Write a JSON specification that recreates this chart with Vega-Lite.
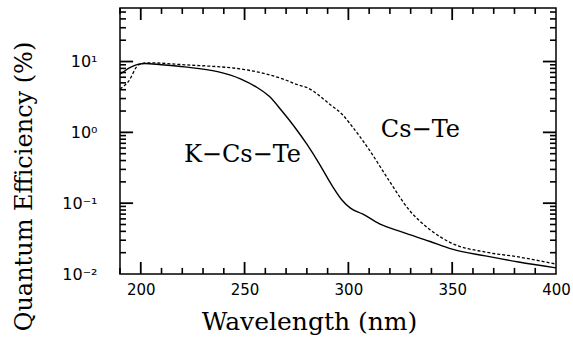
{
  "$schema": "https://vega.github.io/schema/vega-lite/v6.json",
  "width": 436,
  "height": 266,
  "autosize": "none",
  "padding": {"left": 120, "top": 8, "right": 17, "bottom": 67},
  "background": "white",
  "config": {
    "view": {"stroke": "black", "strokeWidth": 1.5},
    "axis": {"domain": false, "grid": false, "ticks": false, "tickSize": 0, "labelColor": "black", "titleColor": "black", "labelFont": "DejaVu Sans", "labelFontSize": 15, "titleFont": "DejaVu Serif", "titleFontWeight": "normal"}
  },
  "resolve": {"axis": {"x": "independent", "y": "independent"}},
  "datasets": {
    "curves": [
      {"wl": 190, "qe": 6.6, "s": "K-Cs-Te"},
      {"wl": 195, "qe": 8.3, "s": "K-Cs-Te"},
      {"wl": 199, "qe": 9.2, "s": "K-Cs-Te"},
      {"wl": 202, "qe": 9.4, "s": "K-Cs-Te"},
      {"wl": 210, "qe": 9.0, "s": "K-Cs-Te"},
      {"wl": 221, "qe": 8.4, "s": "K-Cs-Te"},
      {"wl": 237, "qe": 7.2, "s": "K-Cs-Te"},
      {"wl": 248, "qe": 5.7, "s": "K-Cs-Te"},
      {"wl": 256, "qe": 4.3, "s": "K-Cs-Te"},
      {"wl": 262, "qe": 3.2, "s": "K-Cs-Te"},
      {"wl": 268, "qe": 2.0, "s": "K-Cs-Te"},
      {"wl": 274, "qe": 1.2, "s": "K-Cs-Te"},
      {"wl": 280, "qe": 0.68, "s": "K-Cs-Te"},
      {"wl": 286, "qe": 0.36, "s": "K-Cs-Te"},
      {"wl": 292, "qe": 0.18, "s": "K-Cs-Te"},
      {"wl": 297, "qe": 0.11, "s": "K-Cs-Te"},
      {"wl": 301, "qe": 0.085, "s": "K-Cs-Te"},
      {"wl": 307, "qe": 0.07, "s": "K-Cs-Te"},
      {"wl": 315, "qe": 0.051, "s": "K-Cs-Te"},
      {"wl": 326, "qe": 0.039, "s": "K-Cs-Te"},
      {"wl": 339, "qe": 0.029, "s": "K-Cs-Te"},
      {"wl": 350, "qe": 0.0224, "s": "K-Cs-Te"},
      {"wl": 366, "qe": 0.018, "s": "K-Cs-Te"},
      {"wl": 382, "qe": 0.0148, "s": "K-Cs-Te"},
      {"wl": 400, "qe": 0.0122, "s": "K-Cs-Te"},
      {"wl": 190, "qe": 4.1, "s": "Cs-Te"},
      {"wl": 194, "qe": 5.2, "s": "Cs-Te"},
      {"wl": 199, "qe": 9.0, "s": "Cs-Te"},
      {"wl": 203.5, "qe": 9.6, "s": "Cs-Te"},
      {"wl": 221, "qe": 9.0, "s": "Cs-Te"},
      {"wl": 250, "qe": 7.7, "s": "Cs-Te"},
      {"wl": 269, "qe": 5.6, "s": "Cs-Te"},
      {"wl": 275.6, "qe": 4.7, "s": "Cs-Te"},
      {"wl": 280, "qe": 4.3, "s": "Cs-Te"},
      {"wl": 286, "qe": 3.3, "s": "Cs-Te"},
      {"wl": 291, "qe": 2.5, "s": "Cs-Te"},
      {"wl": 297, "qe": 1.8, "s": "Cs-Te"},
      {"wl": 301, "qe": 1.3, "s": "Cs-Te"},
      {"wl": 310, "qe": 0.57, "s": "Cs-Te"},
      {"wl": 320, "qe": 0.2, "s": "Cs-Te"},
      {"wl": 329, "qe": 0.082, "s": "Cs-Te"},
      {"wl": 339, "qe": 0.043, "s": "Cs-Te"},
      {"wl": 350, "qe": 0.027, "s": "Cs-Te"},
      {"wl": 366, "qe": 0.0204, "s": "Cs-Te"},
      {"wl": 382, "qe": 0.0174, "s": "Cs-Te"},
      {"wl": 400, "qe": 0.0138, "s": "Cs-Te"}
    ],
    "labels": [
      {"wl": 249, "qe": 0.38, "t": "K−Cs−Te"},
      {"wl": 334.7, "qe": 0.85, "t": "Cs−Te"}
    ],
    "xmajor": [{"v": 200}, {"v": 250}, {"v": 300}, {"v": 350}],
    "xminor": [
      {"v": 190}, {"v": 210}, {"v": 220}, {"v": 230}, {"v": 240}, {"v": 260}, {"v": 270}, {"v": 280},
      {"v": 290}, {"v": 310}, {"v": 320}, {"v": 330}, {"v": 340}, {"v": 360}, {"v": 370}, {"v": 380}, {"v": 390}
    ],
    "ymajor": [{"v": 0.1}, {"v": 1}, {"v": 10}],
    "yminor": [
      {"v": 0.02}, {"v": 0.03}, {"v": 0.04}, {"v": 0.05}, {"v": 0.06}, {"v": 0.07}, {"v": 0.08}, {"v": 0.09},
      {"v": 0.2}, {"v": 0.3}, {"v": 0.4}, {"v": 0.5}, {"v": 0.6}, {"v": 0.7}, {"v": 0.8}, {"v": 0.9},
      {"v": 2}, {"v": 3}, {"v": 4}, {"v": 5}, {"v": 6}, {"v": 7}, {"v": 8}, {"v": 9},
      {"v": 20}, {"v": 30}, {"v": 40}, {"v": 50}
    ]
  },
  "layer": [
    {
      "data": {"name": "curves"},
      "transform": [{"filter": "datum.s === 'K-Cs-Te'"}],
      "mark": {"type": "line", "color": "black", "strokeWidth": 1.4, "interpolate": "monotone"},
      "encoding": {
        "x": {
          "field": "wl", "type": "quantitative",
          "scale": {"domain": [190, 400], "nice": false, "zero": false},
          "axis": {
            "orient": "bottom",
            "values": [200, 250, 300, 350, 400],
            "labelFlush": false,
            "labelPadding": 8,
            "labelOverlap": false,
            "title": "Wavelength (nm)",
            "titleFontSize": 25,
            "titleX": 189,
            "titleY": 55,
            "titleBaseline": "alphabetic",
            "titleAlign": "center",
            "titleAnchor": null
          }
        },
        "y": {
          "field": "qe", "type": "quantitative",
          "scale": {"type": "log", "domain": [0.01, 57], "nice": false},
          "axis": {
            "orient": "left",
            "values": [0.01, 0.1, 1, 10],
            "labelFontSize": 16,
            "labelExpr": "datum.value === 10 ? '10¹' : datum.value === 1 ? '10⁰' : datum.value === 0.1 ? '10⁻¹' : '10⁻²'",
            "labelPadding": 23,
            "labelOverlap": false,
            "title": "Quantum Efficiency (%)",
            "titleFontSize": 24,
            "titleAngle": -90,
            "titleX": -89,
            "titleY": 178,
            "titleBaseline": "alphabetic",
            "titleAlign": "center",
            "titleAnchor": null
          }
        }
      }
    },
    {
      "data": {"name": "curves"},
      "transform": [{"filter": "datum.s === 'Cs-Te'"}],
      "mark": {"type": "line", "color": "black", "strokeWidth": 1.3, "strokeDash": [3, 2], "interpolate": "monotone"},
      "encoding": {
        "x": {"field": "wl", "type": "quantitative", "scale": {"domain": [190, 400], "nice": false, "zero": false}, "axis": null},
        "y": {"field": "qe", "type": "quantitative", "scale": {"type": "log", "domain": [0.01, 57], "nice": false}, "axis": null}
      }
    },
    {
      "data": {"name": "labels"},
      "mark": {"type": "text", "font": "DejaVu Serif", "fontSize": 24, "baseline": "alphabetic", "align": "center", "color": "black"},
      "encoding": {
        "x": {"field": "wl", "type": "quantitative", "scale": {"domain": [190, 400], "nice": false, "zero": false}, "axis": null},
        "y": {"field": "qe", "type": "quantitative", "scale": {"type": "log", "domain": [0.01, 57], "nice": false}, "axis": null},
        "text": {"field": "t", "type": "nominal"}
      }
    },
    {
      "data": {"name": "xmajor"},
      "mark": {"type": "rule", "color": "black", "strokeWidth": 1.8},
      "encoding": {
        "x": {"field": "v", "type": "quantitative", "scale": {"domain": [190, 400], "nice": false, "zero": false}, "axis": null},
        "y": {"datum": 0.01, "type": "quantitative", "scale": {"type": "log", "domain": [0.01, 57], "nice": false}, "axis": null},
        "y2": {"datum": 0.0148}
      }
    },
    {
      "data": {"name": "xmajor"},
      "mark": {"type": "rule", "color": "black", "strokeWidth": 1.8},
      "encoding": {
        "x": {"field": "v", "type": "quantitative", "scale": {"domain": [190, 400], "nice": false, "zero": false}, "axis": null},
        "y": {"datum": 57, "type": "quantitative", "scale": {"type": "log", "domain": [0.01, 57], "nice": false}, "axis": null},
        "y2": {"datum": 38.6}
      }
    },
    {
      "data": {"name": "xminor"},
      "mark": {"type": "rule", "color": "black", "strokeWidth": 1.6},
      "encoding": {
        "x": {"field": "v", "type": "quantitative", "scale": {"domain": [190, 400], "nice": false, "zero": false}, "axis": null},
        "y": {"datum": 0.01, "type": "quantitative", "scale": {"type": "log", "domain": [0.01, 57], "nice": false}, "axis": null},
        "y2": {"datum": 0.0122}
      }
    },
    {
      "data": {"name": "xminor"},
      "mark": {"type": "rule", "color": "black", "strokeWidth": 1.6},
      "encoding": {
        "x": {"field": "v", "type": "quantitative", "scale": {"domain": [190, 400], "nice": false, "zero": false}, "axis": null},
        "y": {"datum": 57, "type": "quantitative", "scale": {"type": "log", "domain": [0.01, 57], "nice": false}, "axis": null},
        "y2": {"datum": 47}
      }
    },
    {
      "data": {"name": "ymajor"},
      "mark": {"type": "rule", "color": "black", "strokeWidth": 1.8},
      "encoding": {
        "y": {"field": "v", "type": "quantitative", "scale": {"type": "log", "domain": [0.01, 57], "nice": false}, "axis": null},
        "x": {"datum": 190, "type": "quantitative", "scale": {"domain": [190, 400], "nice": false, "zero": false}, "axis": null},
        "x2": {"datum": 196.3}
      }
    },
    {
      "data": {"name": "ymajor"},
      "mark": {"type": "rule", "color": "black", "strokeWidth": 1.8},
      "encoding": {
        "y": {"field": "v", "type": "quantitative", "scale": {"type": "log", "domain": [0.01, 57], "nice": false}, "axis": null},
        "x": {"datum": 400, "type": "quantitative", "scale": {"domain": [190, 400], "nice": false, "zero": false}, "axis": null},
        "x2": {"datum": 393.7}
      }
    },
    {
      "data": {"name": "yminor"},
      "mark": {"type": "rule", "color": "black", "strokeWidth": 1.6},
      "encoding": {
        "y": {"field": "v", "type": "quantitative", "scale": {"type": "log", "domain": [0.01, 57], "nice": false}, "axis": null},
        "x": {"datum": 190, "type": "quantitative", "scale": {"domain": [190, 400], "nice": false, "zero": false}, "axis": null},
        "x2": {"datum": 192.9}
      }
    },
    {
      "data": {"name": "yminor"},
      "mark": {"type": "rule", "color": "black", "strokeWidth": 1.6},
      "encoding": {
        "y": {"field": "v", "type": "quantitative", "scale": {"type": "log", "domain": [0.01, 57], "nice": false}, "axis": null},
        "x": {"datum": 400, "type": "quantitative", "scale": {"domain": [190, 400], "nice": false, "zero": false}, "axis": null},
        "x2": {"datum": 397.1}
      }
    }
  ]
}
